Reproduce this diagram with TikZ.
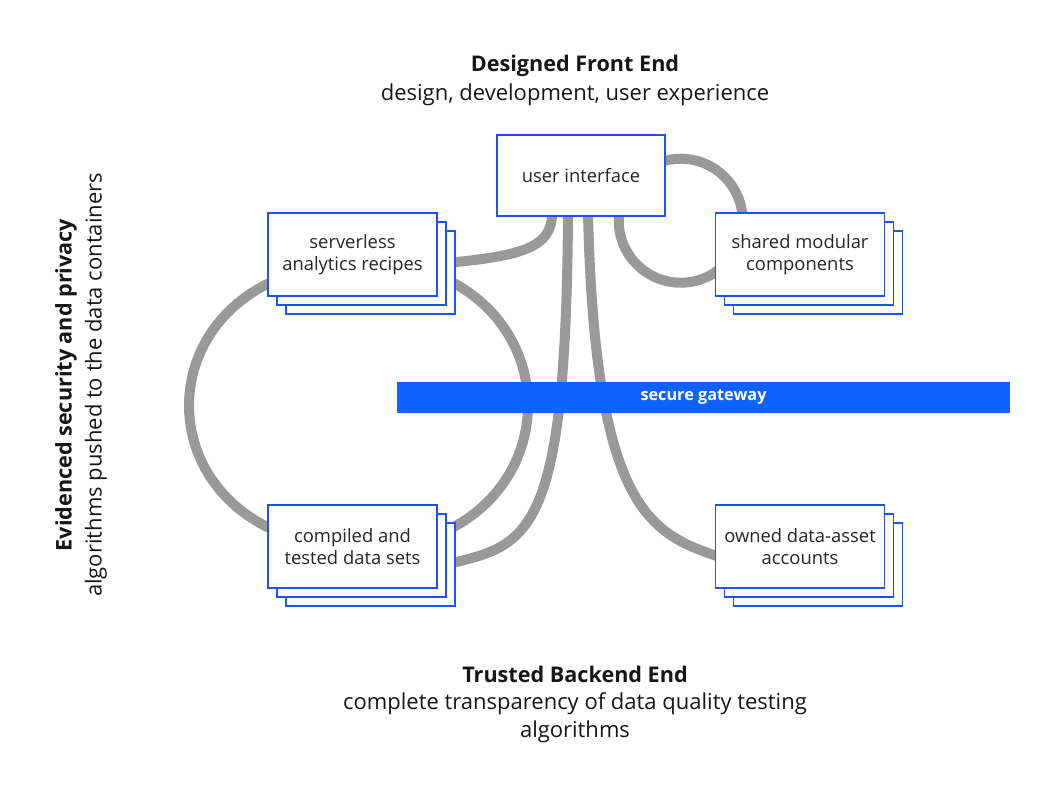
\documentclass[tikz,border=0pt]{standalone}
\usepackage{fontspec}
\setmainfont{Open Sans}
\usetikzlibrary{calc,backgrounds}
\definecolor{ibmblue}{HTML}{0F62FE}
\definecolor{boxblue}{HTML}{1F4FFF}
\definecolor{conngray}{HTML}{999999}
\definecolor{ink}{HTML}{161616}
\definecolor{boxink}{HTML}{262626}
\begin{document}
\begin{tikzpicture}[x=0.75pt,y=-0.75pt,
  card/.style={draw=boxblue, line width=1.1pt, fill=white, minimum width=126.75pt,
    minimum height=62.25pt, inner sep=0pt, align=center,
    font=\fontsize{13.8}{16.5}\selectfont, text=boxink},
  conn/.style={draw=conngray, line width=7.5pt},
  title/.style={font=\bfseries\fontsize{16.2}{21}\selectfont, text=ink, inner sep=0pt},
  subtitle/.style={font=\fontsize{16.5}{21}\selectfont, text=ink, inner sep=0pt, align=center},
  gate/.style={fill=ibmblue, draw=none, minimum width=459.75pt, minimum height=23.25pt,
    inner sep=0pt, text=white, font=\bfseries\fontsize{12.2}{14}\selectfont}
  ]
\useasboundingbox (0,0) rectangle (1056,792);

% titles
\node[title] (ttop) at (575,65.5) {Designed Front End};
\node[subtitle] (stop) at (575,94.5) {design, development, user experience};
\node[title] (tbot) at (575,674) {Trusted Backend End};
\node[subtitle] (sbot) at (575,717.5) {complete transparency of data quality testing\\algorithms};
\node[title, rotate=90] (tleft) at (66,385) {Evidenced security and privacy};
\node[subtitle, rotate=90] (sleft) at (96,385) {algorithms pushed to the data containers};

% user interface
\node[card, minimum width=126pt, minimum height=60.75pt] (ui) at (581,175.5) {user interface};

% serverless stack
\node[card] (sa2) at (370.5,272.5) {};
\node[card] (sa1) at (361.5,263.5) {};
\node[card] (sa) at (352.5,254.5) {serverless\\analytics recipes};

% shared stack
\node[card] (sm2) at (818,272.5) {};
\node[card] (sm1) at (809,263.5) {};
\node[card] (sm) at (800,254.5) {shared modular\\components};

% compiled stack
\node[card] (cd2) at (370.5,564.5) {};
\node[card] (cd1) at (361.5,555.5) {};
\node[card] (cd) at (352.5,546.5) {compiled and\\tested data sets};

% owned stack
\node[card] (od2) at (818,564.5) {};
\node[card] (od1) at (809,555.5) {};
\node[card] (od) at (800,546.5) {owned data-asset\\accounts};

\coordinate (ring) at ($(ui.south east)+(15,4)$);

\begin{scope}[on background layer]
  \draw[conn] ($(sa.west)+(2,28.5)$) .. controls +(-107,52) and +(-107,-52) .. ($(cd.west)+(2,-18.5)$);
  \draw[conn] ($(sa.east)+(16,28.5)$) .. controls +(99,54) and +(99,-54) .. ($(cd.east)+(16,-19.5)$);
  \draw[conn] ($(sa.east)+(14,8)$) .. controls +(69,-7) and +(0,34) .. ($(ui.south)+(-29,-3)$);
  \draw[conn] ($(ui.south)+(-13,-3)$) .. controls +(-2,317) and +(79,-18) .. ($(cd.east)+(14,16.5)$);
  \draw[conn] ($(ui.south)+(7,-3)$) .. controls +(7,292) and +(-68,-23) .. ($(od.west)+(2,9.5)$);
  \draw[conn] (ring) circle[radius=46.5pt];
\end{scope}

% gateway
\node[gate] (gw) at (703.5,397.5) {secure gateway};
\end{tikzpicture}
\end{document}
